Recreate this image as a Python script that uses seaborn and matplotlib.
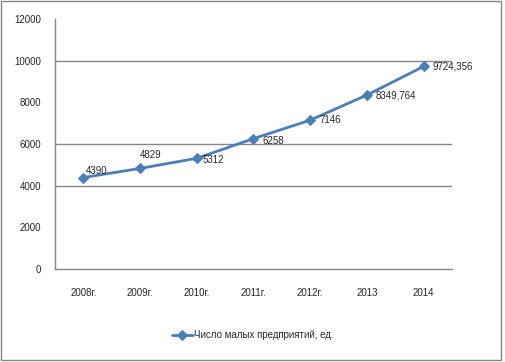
import pandas as pd
import seaborn as sns
import matplotlib.pyplot as plt
from matplotlib.patches import Rectangle
from matplotlib.ticker import FixedLocator

years = ['2008г.', '2009г.', '2010г.', '2011г.', '2012г.', '2013', '2014']
counts = [4390, 4829, 5312, 6258, 7146, 8349.764, 9724.356]
labels = ['4390', '4829', '5312', '6258', '7146', '8349,764', '9724,356']
series_name = 'Число малых предприятий, ед.'

df = pd.DataFrame({'Год': years, series_name: counts})

sns.set_style('white')
plt.rcParams['font.family'] = ['Liberation Sans', 'DejaVu Sans']

fig = plt.figure(figsize=(5.05, 3.62), dpi=100)
ax = fig.add_axes([55 / 505, 1 - 269 / 362, 397 / 505, 250 / 362])

blue = '#4a7ebb'
grey = '#868686'

sns.lineplot(data=df, x='Год', y=series_name, ax=ax, color=blue, lw=2,
             marker='D', markersize=5, markeredgecolor=blue, label=series_name)

# data labels
offsets = [(2, 5), (0, 10), (4, -1), (6.5, -1.5), (6.5, 0), (6.5, 0), (6.5, 0)]
for i, (v, t) in enumerate(zip(counts, labels)):
    ax.annotate(t, (i, v), xytext=offsets[i], textcoords='offset points',
                ha='left', va='center', fontsize=7)

ax.set_ylim(0, 12000)
ax.set_yticks(range(0, 12001, 2000))
ax.set_xlim(-0.5, len(years) - 0.5)
ax.xaxis.set_minor_locator(FixedLocator([i - 0.5 for i in range(len(years) + 1)]))
ax.tick_params(axis='x', which='major', length=0, pad=14, labelsize=7)
ax.tick_params(axis='x', which='minor', length=5, color=grey, width=1)
ax.tick_params(axis='y', length=4, color=grey, width=1, pad=6, labelsize=7)
ax.set_xlabel('')
ax.set_ylabel('')

# only some gridlines survive in the reference
for g in [4000, 6000, 10000]:
    ax.axhline(g, color=grey, lw=1, zorder=0)

for s in ['top', 'right']:
    ax.spines[s].set_visible(False)
for s in ['left', 'bottom']:
    ax.spines[s].set_color(grey)
    ax.spines[s].set_linewidth(1)

ax.legend(loc='center', bbox_to_anchor=(0.5, 1 - 335 / 362),
          bbox_transform=fig.transFigure, frameon=False, fontsize=7,
          handlelength=2.2, handletextpad=0.1)

fig.patches.append(Rectangle((0.5 / 505, 1 - 360 / 362), 500 / 505, 359 / 362,
                             transform=fig.transFigure, fill=False,
                             edgecolor=grey, lw=1))

fig.savefig('out.png', dpi=100)
